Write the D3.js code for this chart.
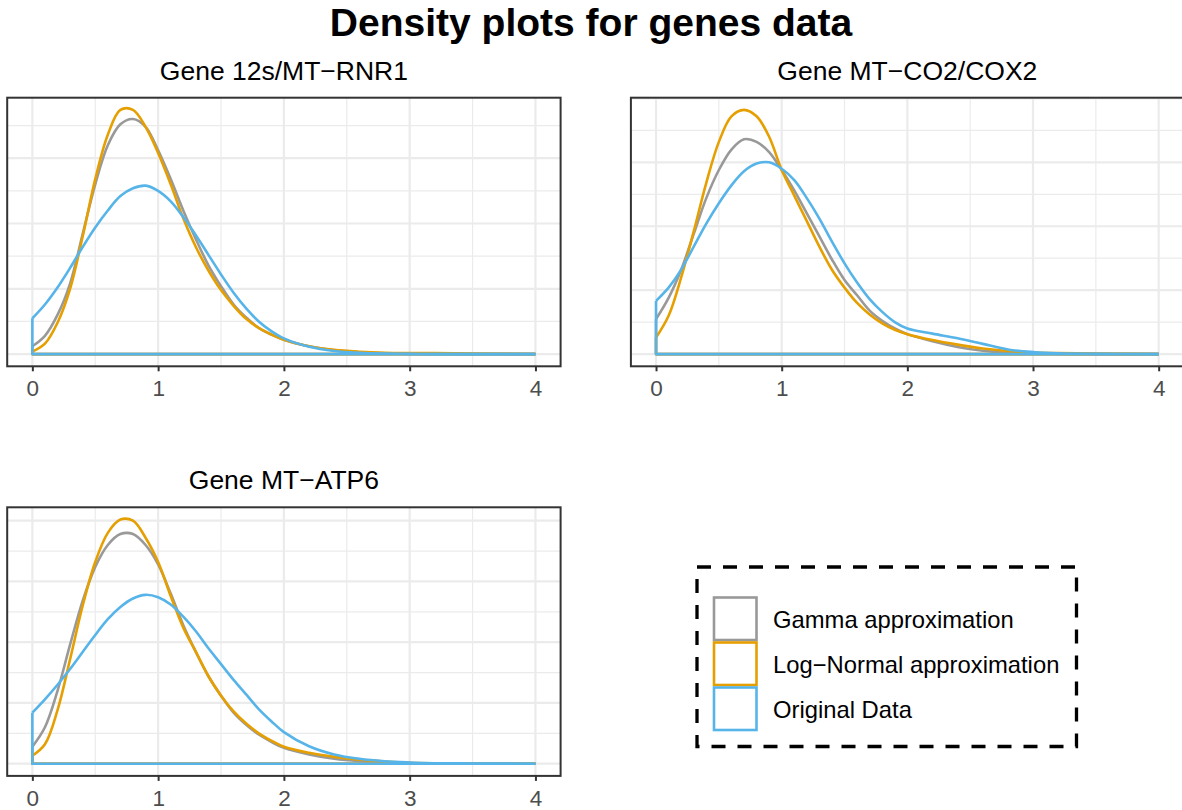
<!DOCTYPE html>
<html lang="en">
<head>
  <meta charset="utf-8" />
  <title>Density plots for genes data</title>
  <script src="https://cdn.jsdelivr.net/npm/d3@7/dist/d3.min.js"></script>
  <style>
    body { margin: 0; background: #fff; }
    svg  { display: block; font-family: "Liberation Sans", Arial, sans-serif; }
    .grid-major { stroke: #ebebeb; stroke-width: 2.2px; }
    .grid-minor { stroke: #ebebeb; stroke-width: 1.2px; }
    .frame { fill: none; stroke: #333; stroke-width: 2px; }
    .axis path { display: none; }
    .axis line { stroke: #333; stroke-width: 2px; }
    .axis text { fill: #4d4d4d; font-size: 22.5px; }
    .curve { fill: none; stroke-width: 2.6px; stroke-linejoin: round; }
  </style>
</head>
<body>
<svg id="chart" width="1182" height="810"></svg>
<script>
// ---- data ----
const xGrid = [0, 0.1, 0.2, 0.3, 0.4, 0.5, 0.6, 0.7, 0.8, 0.9, 1.0,
               1.1, 1.2, 1.3, 1.4, 1.5, 1.6, 1.7, 1.8, 1.9, 2.0,
               2.2, 2.4, 2.6, 2.8, 3.0, 3.2, 3.5, 4.0];

const seriesNames  = ["Gamma approximation", "Log\u2212Normal approximation", "Original Data"];
const seriesColors = ["#999999", "#E69F00", "#56B4E9"];
const panelTitles  = ["Gene 12s/MT\u2212RNR1", "Gene MT\u2212CO2/COX2", "Gene MT\u2212ATP6"];
const xTicks = [0, 1, 2, 3, 4];

// Gene 12s/MT-RNR1
const rnr1Gamma     = [.03,.07,.15,.27,.46,.65,.80,.88,.90,.87,.78, .67,.55,.44,.34,.26,.19,.14,.10,.075,.055, .03,.015,.007,.003,.001,.001,0,0];
const rnr1LogNormal = [.01,.04,.12,.25,.45,.67,.84,.935,.935,.87,.77, .65,.52,.41,.32,.245,.185,.135,.10,.075,.055, .03,.016,.009,.005,.004,.004,.002,0];
const rnr1Original  = [.137,.19,.255,.33,.41,.485,.55,.605,.635,.645,.625, .585,.525,.455,.38,.305,.235,.175,.125,.088,.06, .028,.012,.005,.002,.001,0,0,0];

// Gene MT-CO2/COX2
const cox2Gamma     = [.137,.22,.33,.47,.61,.72,.80,.84,.83,.79,.72, .64,.55,.46,.37,.29,.23,.17,.13,.10,.078, .05,.028,.013,.005,.002,.001,0,0];
const cox2LogNormal = [.065,.15,.30,.48,.67,.83,.93,.955,.93,.85,.72, .62,.52,.42,.33,.26,.20,.155,.12,.095,.078, .055,.037,.022,.012,.006,.004,.002,0];
const cox2Original  = [.208,.26,.33,.42,.51,.59,.66,.715,.745,.75,.725, .68,.61,.53,.44,.355,.28,.215,.165,.125,.10, .08,.062,.04,.018,.008,.003,.001,0];

// Gene MT-ATP6
const atp6Gamma     = [.07,.15,.30,.49,.67,.81,.90,.945,.945,.90,.82, .70,.57,.46,.36,.28,.21,.16,.12,.09,.065, .038,.02,.01,.005,.002,.001,0,0];
const atp6LogNormal = [.033,.08,.22,.43,.65,.83,.95,1.005,1.0,.93,.83, .69,.56,.46,.36,.28,.215,.165,.125,.095,.07, .045,.028,.016,.009,.004,.002,.001,0];
const atp6Original  = [.21,.265,.325,.39,.46,.53,.595,.645,.68,.695,.685, .655,.605,.545,.475,.41,.345,.285,.225,.175,.13, .072,.038,.02,.01,.005,.002,.001,0];

const panelData = [
  [rnr1Gamma, rnr1LogNormal, rnr1Original],
  [cox2Gamma, cox2LogNormal, cox2Original],
  [atp6Gamma, atp6LogNormal, atp6Original]
];

// ---- layout ----
const panels = [
  { x: 7.2,   y: 97.7,  w: 553.4, h: 268.6 },
  { x: 630.9, y: 97.7,  w: 552.9, h: 268.6 },
  { x: 7.2,   y: 507.3, w: 553.4, h: 268.6 }
];

const svg = d3.select('#chart');

svg.append('text')
  .attr('x', 591).attr('y', 36)
  .attr('text-anchor', 'middle')
  .style('font-weight', 'bold').style('font-size', '39px')
  .text('Density plots for genes data');

panels.forEach((p, i) => {
  const series = panelData[i];
  const yMax = d3.max(series, s => d3.max(s));

  const x = d3.scaleLinear().domain([-0.2, 4.2]).range([p.x, p.x + p.w]);
  const y = d3.scaleLinear().domain([-0.05 * yMax, 1.05 * yMax]).range([p.y + p.h, p.y]);

  const g = svg.append('g');

  /* grid */
  const xMinor = [0.5, 1.5, 2.5, 3.5];
  const yMajor = d3.range(0, 1.05 * yMax + 1e-9, 0.25);
  const yMinor = d3.range(0.125, 1.05 * yMax, 0.25);

  g.selectAll('line.ymin').data(yMinor).join('line').attr('class', 'grid-minor')
    .attr('x1', p.x).attr('x2', p.x + p.w).attr('y1', d => y(d)).attr('y2', d => y(d));
  g.selectAll('line.xmin').data(xMinor).join('line').attr('class', 'grid-minor')
    .attr('y1', p.y).attr('y2', p.y + p.h).attr('x1', d => x(d)).attr('x2', d => x(d));
  g.selectAll('line.ymaj').data(yMajor).join('line').attr('class', 'grid-major')
    .attr('x1', p.x).attr('x2', p.x + p.w).attr('y1', d => y(d)).attr('y2', d => y(d));
  g.selectAll('line.xmaj').data(xTicks).join('line').attr('class', 'grid-major')
    .attr('y1', p.y).attr('y2', p.y + p.h).attr('x1', d => x(d)).attr('x2', d => x(d));

  /* density outlines: gamma, log-normal, original (last on top) */
  const line = d3.line()
    .x((d, j) => x(xGrid[j]))
    .y(d => y(d))
    .curve(d3.curveCatmullRom.alpha(0.5));

  series.forEach((vals, k) => {
    // baseline + left edge, as ggplot draws the full outline
    g.append('path').attr('class', 'curve')
      .attr('stroke', seriesColors[k])
      .attr('d', d3.line()([[x(xGrid[xGrid.length - 1]), y(0)], [x(0), y(0)], [x(0), y(vals[0])]]));
    g.append('path').attr('class', 'curve')
      .attr('stroke', seriesColors[k])
      .attr('d', line(vals));
  });

  g.append('rect').attr('class', 'frame')
    .attr('x', p.x).attr('y', p.y).attr('width', p.w).attr('height', p.h);

  g.append('g').attr('class', 'axis')
    .attr('transform', `translate(0,${p.y + p.h})`)
    .call(d3.axisBottom(x).tickValues(xTicks).tickFormat(d3.format('d'))
      .tickSize(5).tickSizeOuter(0).tickPadding(9));

  svg.append('text')
    .attr('x', p.x + p.w / 2).attr('y', p.y - 18)
    .attr('text-anchor', 'middle').style('font-size', '26.5px')
    .text(panelTitles[i]);
});

/* ---- legend ---- */
const lg = svg.append('g');
lg.append('rect')
  .attr('x', 697).attr('y', 567).attr('width', 379.5).attr('height', 179.5)
  .attr('fill', 'none').attr('stroke', '#000').attr('stroke-width', 3.3)
  .attr('stroke-dasharray', '14,12');

seriesNames.forEach((name, k) => {
  const ky = 597.5 + k * 45;
  lg.append('rect')
    .attr('x', 714).attr('y', ky).attr('width', 42.5).attr('height', 42.5)
    .attr('fill', '#fff').attr('stroke', seriesColors[k]).attr('stroke-width', 2.6);
  lg.append('text')
    .attr('x', 773).attr('y', ky + 21.5)
    .attr('dominant-baseline', 'central').style('font-size', '23.8px')
    .text(name);
});
</script>
</body>
</html>
